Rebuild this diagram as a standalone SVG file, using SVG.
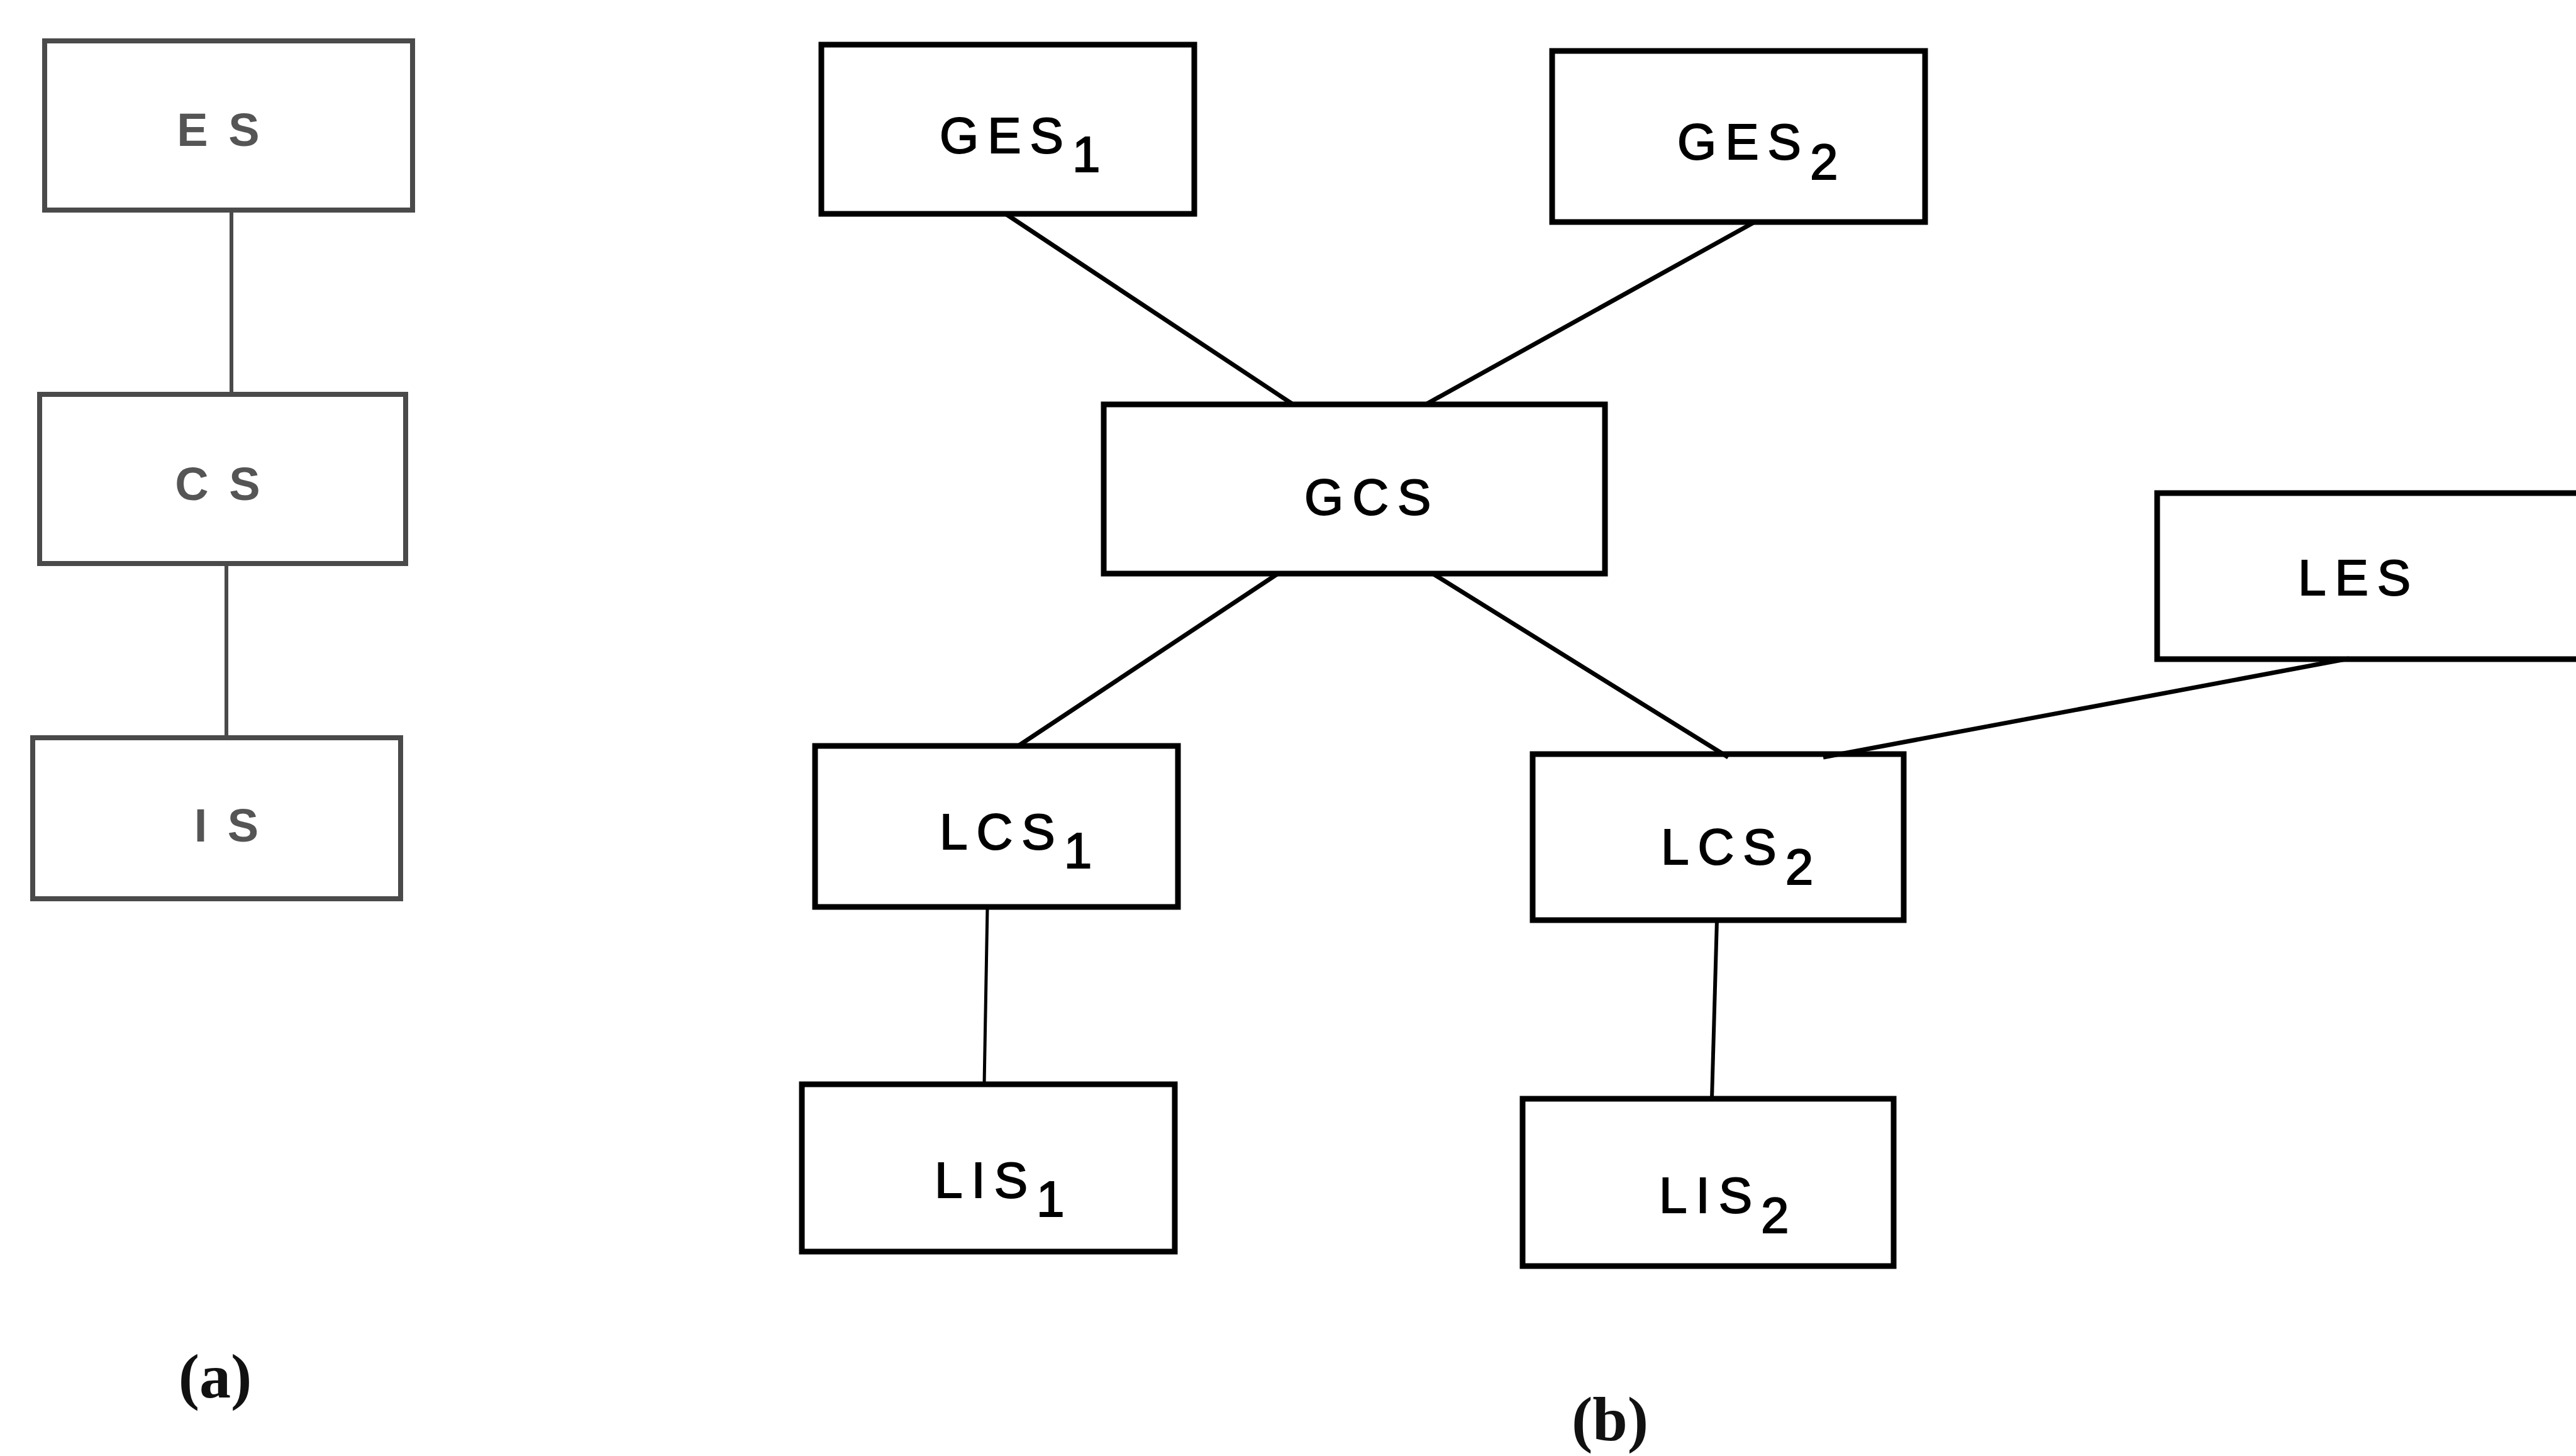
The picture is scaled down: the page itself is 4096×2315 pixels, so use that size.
<svg xmlns="http://www.w3.org/2000/svg" width="4096" height="2315" viewBox="0 0 4096 2315">
<style>
.a rect{fill:none;stroke:#4a4a4a;stroke-width:8}
.b rect{fill:none;stroke:#000;stroke-width:9}
.ta{font-family:"Liberation Sans",Arial,sans-serif;font-size:74px;font-weight:bold;fill:#555;text-anchor:middle;letter-spacing:6px}
.tb{font-family:"Liberation Sans",Arial,sans-serif;font-size:80px;fill:#000;stroke:#000;stroke-width:2;letter-spacing:14px}
.cap{font-family:"Liberation Serif","Times New Roman",serif;font-size:100px;font-weight:bold;fill:#111;text-anchor:middle}
.la line{stroke:#4a4a4a;stroke-width:6}
.lb line{stroke:#000;stroke-width:7}
</style>
<rect width="4096" height="2315" fill="#fff"/>
<g id="connectors">
  <g class="la">
    <line x1="368" y1="334" x2="368" y2="627"/>
    <line x1="360" y1="896" x2="360" y2="1173"/>
  </g>
  <g class="lb">
    <line x1="1599" y1="340" x2="2056" y2="643"/>
    <line x1="2790" y1="353" x2="2267" y2="643"/>
    <line x1="2032" y1="912" x2="1619" y2="1186"/>
    <line x1="2278" y1="912" x2="2748" y2="1204"/>
    <line x1="3735" y1="1047" x2="2899" y2="1204"/>
    <line x1="1570" y1="1442" x2="1565" y2="1724" style="stroke-width:5"/>
    <line x1="2730" y1="1463" x2="2722" y2="1747" style="stroke-width:6"/>
  </g>
</g>
<g id="ES" class="a"><rect x="71" y="65" width="585" height="269"/><text class="ta" x="350" y="232">E S</text></g>
<g id="CS" class="a"><rect x="63" y="627" width="582" height="269"/><text class="ta" x="349" y="795">C S</text></g>
<g id="IS" class="a"><rect x="52" y="1173" width="585" height="256"/><text class="ta" x="363" y="1338">I S</text></g>
<g id="GES1" class="b"><rect x="1306" y="71" width="593" height="269"/><text class="tb" x="1494" y="243">GES<tspan dy="30">1</tspan></text></g>
<g id="GES2" class="b"><rect x="2468" y="81" width="593" height="272"/><text class="tb" x="2667" y="253">GES<tspan dy="32">2</tspan></text></g>
<g id="GCS" class="b"><rect x="1755" y="643" width="797" height="269"/><text class="tb" x="2074" y="818">GCS</text></g>
<g id="LES" class="b"><rect x="3430" y="784" width="720" height="264"/><text class="tb" x="3654" y="946">LES</text></g>
<g id="LCS1" class="b"><rect x="1296" y="1186" width="577" height="256"/><text class="tb" x="1494" y="1350">LCS<tspan dy="30">1</tspan></text></g>
<g id="LCS2" class="b"><rect x="2437" y="1199" width="590" height="264"/><text class="tb" x="2641" y="1374">LCS<tspan dy="32">2</tspan></text></g>
<g id="LIS1" class="b"><rect x="1275" y="1724" width="593" height="266"/><text class="tb" x="1486" y="1904">LIS<tspan dy="30">1</tspan></text></g>
<g id="LIS2" class="b"><rect x="2421" y="1747" width="590" height="266"/><text class="tb" x="2638" y="1928">LIS<tspan dy="32">2</tspan></text></g>
<text class="cap" x="342" y="2222">(a)</text>
<text class="cap" x="2560" y="2290">(b)</text>
</svg>
